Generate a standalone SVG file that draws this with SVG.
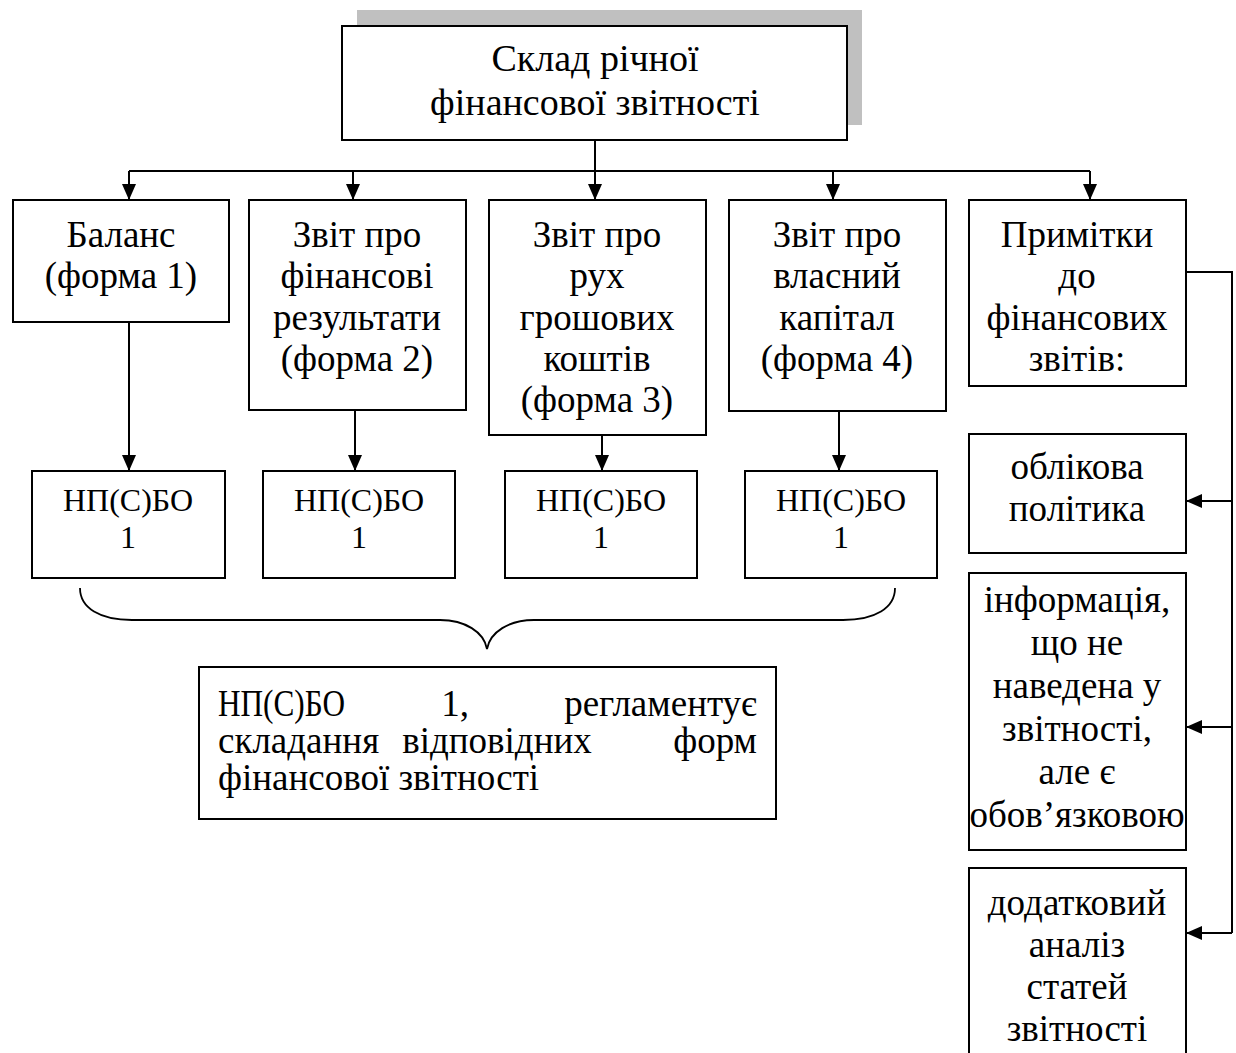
<svg xmlns="http://www.w3.org/2000/svg" width="1236" height="1053" viewBox="0 0 1236 1053">
<style>
.box{fill:#fff;stroke:#000;stroke-width:2}
.shadow{fill:#c0c0c0;stroke:none}
.t{font-family:"Liberation Serif","Times New Roman",serif;font-size:37px;text-anchor:middle;fill:#000}
.top{font-size:38px}
.np{font-size:32px}
.big{font-family:"Liberation Serif","Times New Roman",serif;font-size:37px;fill:#000}
.ln{fill:none;stroke:#000;stroke-width:2}
.br{fill:none;stroke:#000;stroke-width:1.8}
</style>
<defs>
<marker id="ah" viewBox="0 0 16 14" refX="16" refY="7" markerWidth="16" markerHeight="14" orient="auto" markerUnits="userSpaceOnUse">
<path d="M0,0 L16,7 L0,14 z" fill="#000"/>
</marker>
</defs>

<g id="connectors">
<path class="ln" d="M595,140 V171"/>
<path class="ln" d="M129,171 H1090"/>
<path class="ln" d="M129,171 V200" marker-end="url(#ah)"/>
<path class="ln" d="M353,171 V200" marker-end="url(#ah)"/>
<path class="ln" d="M595,171 V200" marker-end="url(#ah)"/>
<path class="ln" d="M833,171 V200" marker-end="url(#ah)"/>
<path class="ln" d="M1090,171 V200" marker-end="url(#ah)"/>
<path class="ln" d="M129,322 V471" marker-end="url(#ah)"/>
<path class="ln" d="M355,410 V471" marker-end="url(#ah)"/>
<path class="ln" d="M602,435 V471" marker-end="url(#ah)"/>
<path class="ln" d="M839,411 V471" marker-end="url(#ah)"/>
<path class="ln" d="M1186,272 H1232 V933"/>
<path class="ln" d="M1232,501 H1186" marker-end="url(#ah)"/>
<path class="ln" d="M1232,727 H1186" marker-end="url(#ah)"/>
<path class="ln" d="M1232,933 H1186" marker-end="url(#ah)"/>
<path id="brace" class="br" d="M80,588 C80,608 100,620 132,620 L440,620 C465,620 484,632 487,649 C490,632 509,620 534,620 L843,620 C875,620 895,608 895,588"/>
</g>

<g id="root">
<rect class="shadow" x="357" y="10" width="505" height="115"/>
<rect class="box" x="342" y="26" width="505" height="114"/>
<text class="t top" x="595" y="71">Склад річної</text>
<text class="t top" x="595" y="115">фінансової звітності</text>
</g>

<g id="balance">
<rect class="box" x="13" y="200" width="216" height="122"/>
<text class="t" x="121" y="247">Баланс</text>
<text class="t" x="121" y="288">(форма 1)</text>
</g>

<g id="fin-results">
<rect class="box" x="249" y="200" width="217" height="210"/>
<text class="t" x="357" y="247">Звіт про</text>
<text class="t" x="357" y="288">фінансові</text>
<text class="t" x="357" y="330">результати</text>
<text class="t" x="357" y="371">(форма 2)</text>
</g>

<g id="cash-flow">
<rect class="box" x="489" y="200" width="217" height="235"/>
<text class="t" x="597" y="247">Звіт про</text>
<text class="t" x="597" y="288">рух</text>
<text class="t" x="597" y="330">грошових</text>
<text class="t" x="597" y="371">коштів</text>
<text class="t" x="597" y="412">(форма 3)</text>
</g>

<g id="equity">
<rect class="box" x="729" y="200" width="217" height="211"/>
<text class="t" x="837" y="247">Звіт про</text>
<text class="t" x="837" y="288">власний</text>
<text class="t" x="837" y="330">капітал</text>
<text class="t" x="837" y="371">(форма 4)</text>
</g>

<g id="notes">
<rect class="box" x="969" y="200" width="217" height="186"/>
<text class="t" x="1077" y="247">Примітки</text>
<text class="t" x="1077" y="288">до</text>
<text class="t" x="1077" y="330">фінансових</text>
<text class="t" x="1077" y="371">звітів:</text>
</g>

<g id="np1">
<rect class="box" x="32" y="471" width="193" height="107"/>
<text class="t np" x="128" y="511">НП(С)БО</text>
<text class="t np" x="128" y="548">1</text>
</g>
<g id="np2">
<rect class="box" x="263" y="471" width="192" height="107"/>
<text class="t np" x="359" y="511">НП(С)БО</text>
<text class="t np" x="359" y="548">1</text>
</g>
<g id="np3">
<rect class="box" x="505" y="471" width="192" height="107"/>
<text class="t np" x="601" y="511">НП(С)БО</text>
<text class="t np" x="601" y="548">1</text>
</g>
<g id="np4">
<rect class="box" x="745" y="471" width="192" height="107"/>
<text class="t np" x="841" y="511">НП(С)БО</text>
<text class="t np" x="841" y="548">1</text>
</g>

<g id="summary">
<rect class="box" x="199" y="667" width="577" height="152"/>
<text class="big" x="218" y="716" textLength="127" lengthAdjust="spacingAndGlyphs">НП(С)БО</text>
<text class="big" x="455" y="716" text-anchor="middle">1,</text>
<text class="big" x="757" y="716" text-anchor="end">регламентує</text>
<text class="big" x="218" y="753">складання</text>
<text class="big" x="497" y="753" text-anchor="middle">відповідних</text>
<text class="big" x="757" y="753" text-anchor="end">форм</text>
<text class="big" x="218" y="790">фінансової звітності</text>
</g>

<g id="policy">
<rect class="box" x="969" y="434" width="217" height="119"/>
<text class="t" x="1077" y="479">облікова</text>
<text class="t" x="1077" y="521">політика</text>
</g>

<g id="info">
<rect class="box" x="969" y="573" width="217" height="277"/>
<text class="t" x="1077" y="612">інформація,</text>
<text class="t" x="1077" y="655">що не</text>
<text class="t" x="1077" y="698">наведена у</text>
<text class="t" x="1077" y="741">звітності,</text>
<text class="t" x="1077" y="784">але є</text>
<text class="t" x="1077" y="827">обов’язковою</text>
</g>

<g id="analysis">
<rect class="box" x="969" y="868" width="217" height="200"/>
<text class="t" x="1077" y="915">додатковий</text>
<text class="t" x="1077" y="957">аналіз</text>
<text class="t" x="1077" y="999">статей</text>
<text class="t" x="1077" y="1041">звітності</text>
</g>
</svg>
